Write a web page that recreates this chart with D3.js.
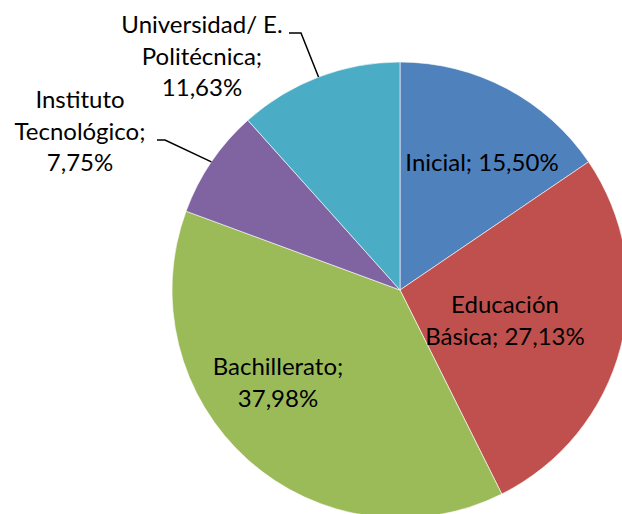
<!DOCTYPE html>
<html>
<head>
<meta charset="utf-8">
<script src="https://cdn.jsdelivr.net/npm/d3@7"></script>
<style>
  body { margin: 0; background: #fff; }
  text { font-family: Lato, "Open Sans", sans-serif; font-size: 24px; fill: #000; }
</style>
</head>
<body>
<div id="chart"></div>
<script>
// data
var categories = ["Inicial", "Educación Básica", "Bachillerato", "Instituto Tecnológico", "Universidad/ E. Politécnica"];
var values = [15.50, 27.13, 37.98, 7.75, 11.63];
var colors = ["#4F81BD", "#C0504D", "#9BBB59", "#8064A2", "#4BACC6"];

// label lines as they are wrapped in the chart
var labelLines = [
  ["Inicial; 15,50%"],
  ["Educación", "Básica; 27,13%"],
  ["Bachillerato;", "37,98%"],
  ["Instituto", "Tecnológico;", "7,75%"],
  ["Universidad/ E.", "Politécnica;", "11,63%"]
];

var svgWidth = 622;
var svgHeight = 514;
var cx = 400, cy = 290, radius = 228;

// where each label block sits (centre x, first baseline y) and whether it gets a leader
var labelPos = [
  {x: 482, y: 171, leader: null},
  {x: 505, y: 313, leader: null},
  {x: 278, y: 375, leader: null},
  {x: 80,  y: 108, leader: {y: 140, x0: 157, x1: 165}},
  {x: 202, y: 33,  leader: {y: 33, x0: 289, x1: 301}}
];
var lineHeight = 31.5;

var svg = d3.select("#chart")
  .append("svg")
  .attr("width", svgWidth)
  .attr("height", svgHeight);

var chartGroup = svg.append("g")
  .attr("transform", `translate(${cx}, ${cy})`);

var data = categories.map(function(c, i) {
  return {name: c, value: values[i], color: colors[i], lines: labelLines[i], pos: labelPos[i]};
});

var pie = d3.pie()
  .sort(null)
  .value(d => d.value);

var arc = d3.arc()
  .innerRadius(0)
  .outerRadius(radius);

var edgeArc = d3.arc()
  .innerRadius(radius)
  .outerRadius(radius);

var arcs = pie(data);

chartGroup.selectAll("path")
  .data(arcs)
  .enter()
  .append("path")
  .attr("d", arc)
  .attr("fill", d => d.data.color)
  .attr("stroke", "#fff")
  .attr("stroke-width", 0.6);

// leader lines for the outside labels
var leaderGroup = svg.append("g");
arcs.forEach(function(d) {
  var L = d.data.pos.leader;
  if (!L) return;
  var c = edgeArc.centroid(d);
  leaderGroup.append("polyline")
    .attr("points", `${L.x0},${L.y} ${L.x1},${L.y} ${c[0] + cx},${c[1] + cy}`)
    .attr("fill", "none")
    .attr("stroke", "#000")
    .attr("stroke-width", 1.5);
});

// labels
var labelGroup = svg.append("g");
data.forEach(function(d) {
  var t = labelGroup.append("text")
    .attr("text-anchor", "middle");
  d.lines.forEach(function(line, j) {
    t.append("tspan")
      .attr("x", d.pos.x)
      .attr("y", d.pos.y + j * lineHeight)
      .text(line);
  });
});
</script>
</body>
</html>
